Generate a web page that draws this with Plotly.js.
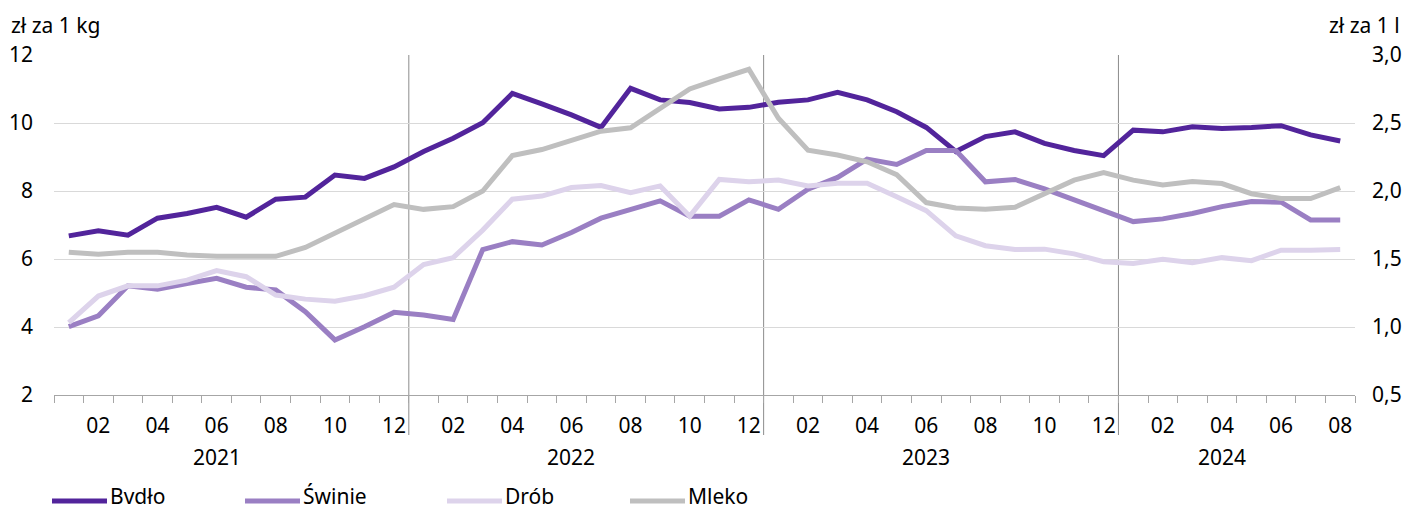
<!DOCTYPE html>
<html>
<head>
<meta charset="utf-8">
<script src="https://cdn.plot.ly/plotly-3.0.1.min.js"></script>
<style>
  html, body { margin: 0; padding: 0; background: #fff; }
  #chart { width: 1405px; height: 510px; }
</style>
</head>
<body>
<div id="chart"></div>
<script>
// ---- data ----
const months = [
  '2021-01','2021-02','2021-03','2021-04','2021-05','2021-06','2021-07','2021-08','2021-09','2021-10','2021-11','2021-12',
  '2022-01','2022-02','2022-03','2022-04','2022-05','2022-06','2022-07','2022-08','2022-09','2022-10','2022-11','2022-12',
  '2023-01','2023-02','2023-03','2023-04','2023-05','2023-06','2023-07','2023-08','2023-09','2023-10','2023-11','2023-12',
  '2024-01','2024-02','2024-03','2024-04','2024-05','2024-06','2024-07','2024-08'
];
const bydlo = [
  6.68, 6.83, 6.70, 7.20, 7.34, 7.52, 7.23, 7.76, 7.82, 8.47, 8.37, 8.71,
  9.16, 9.55, 10.01, 10.87, 10.56, 10.24, 9.87, 11.02, 10.68, 10.60, 10.41, 10.46,
  10.61, 10.68, 10.90, 10.68, 10.33, 9.87, 9.16, 9.60, 9.74, 9.40, 9.19, 9.04,
  9.79, 9.74, 9.89, 9.84, 9.87, 9.92, 9.65, 9.47
];
const swinie = [
  4.01, 4.33, 5.21, 5.11, 5.28, 5.43, 5.17, 5.09, 4.45, 3.62, 4.01, 4.43,
  4.35, 4.22, 6.28, 6.51, 6.41, 6.78, 7.20, 7.46, 7.71, 7.26, 7.26, 7.74,
  7.46, 8.05, 8.40, 8.94, 8.78, 9.19, 9.19, 8.27, 8.34, 8.06, 7.74, 7.41,
  7.10, 7.18, 7.34, 7.54, 7.69, 7.67, 7.15, 7.15
];
const drob = [
  4.13, 4.91, 5.21, 5.21, 5.38, 5.66, 5.48, 4.94, 4.82, 4.76, 4.92, 5.17,
  5.84, 6.04, 6.85, 7.76, 7.85, 8.10, 8.16, 7.95, 8.15, 7.26, 8.34, 8.27,
  8.32, 8.15, 8.23, 8.23, 7.83, 7.42, 6.68, 6.39, 6.28, 6.29, 6.15, 5.92,
  5.87, 5.99, 5.89, 6.04, 5.95, 6.26, 6.26, 6.28
];
const mleko = [
  1.55, 1.535, 1.55, 1.55, 1.53, 1.52, 1.52, 1.52, 1.585, 1.69, 1.80, 1.90,
  1.865, 1.885, 2.00, 2.26, 2.305, 2.37, 2.44, 2.465, 2.61, 2.75, 2.825, 2.895,
  2.535, 2.30, 2.265, 2.215, 2.12, 1.915, 1.875, 1.865, 1.88, 1.98, 2.08, 2.135,
  2.08, 2.045, 2.07, 2.055, 1.98, 1.945, 1.945, 2.025
];
const seriesNames = ['Bvdło', 'Świnie', 'Drób', 'Mleko'];
const leftUnit = 'zł za 1 kg';
const rightUnit = 'zł za 1 l';
const leftTicks = [2, 4, 6, 8, 10, 12];
const rightTicks = [0.5, 1.0, 1.5, 2.0, 2.5, 3.0];

// ---- derived labels ----
const monthTickText = months.map(m => (parseInt(m.slice(5), 10) % 2 === 0 ? m.slice(5) : ''));
const years = [...new Set(months.map(m => m.slice(0, 4)))];

const FONT = 'Noto Sans, Open Sans, DejaVu Sans, sans-serif';
const FS = 21;
const colors = ['#52249b', '#9a7fc3', '#ddd3eb', '#bfbfbf'];

// plot-area geometry (pixels)
const W = 1405, H = 510;
const M = { l: 54, r: 50, t: 55, b: 115 };
const PW = W - M.l - M.r, PH = H - M.t - M.b;
const px2paperX = px => (px - M.l) / PW;
const px2paperY = py => (H - M.b - py) / PH;

const traces = [
  { x: months, y: bydlo, name: seriesNames[0], type: 'scatter', mode: 'lines',
    line: { color: colors[0], width: 5 }, xaxis: 'x', yaxis: 'y' },
  { x: months, y: swinie, name: seriesNames[1], type: 'scatter', mode: 'lines',
    line: { color: colors[1], width: 5 }, xaxis: 'x', yaxis: 'y' },
  { x: months, y: drob, name: seriesNames[2], type: 'scatter', mode: 'lines',
    line: { color: colors[2], width: 5 }, xaxis: 'x', yaxis: 'y' },
  { x: months, y: mleko, name: seriesNames[3], type: 'scatter', mode: 'lines',
    line: { color: colors[3], width: 5 }, xaxis: 'x', yaxis: 'y2' }
];

// year separators and year labels
const shapes = [];
const annotations = [];
years.forEach((yr, k) => {
  const idx = months.map((m, i) => (m.startsWith(yr) ? i : -1)).filter(i => i >= 0);
  const first = idx[0], last = idx[idx.length - 1];
  if (k > 0) {
    shapes.push({ type: 'line', xref: 'x', yref: 'paper', x0: first - 0.5, x1: first - 0.5,
      y0: px2paperY(435), y1: 1, line: { color: '#8c8c8c', width: 1 }, layer: 'below' });
  }
  annotations.push({ xref: 'x', yref: 'paper', x: (first + last) / 2 - 0.5, y: px2paperY(457),
    text: yr, showarrow: false, xanchor: 'center', yanchor: 'middle',
    font: { family: FONT, size: FS, color: '#000' } });
});
annotations.push({ xref: 'paper', yref: 'paper', x: px2paperX(9), y: px2paperY(25), xanchor: 'left', yanchor: 'middle',
  text: leftUnit, showarrow: false, font: { family: FONT, size: FS, color: '#000' } });
annotations.push({ xref: 'paper', yref: 'paper', x: px2paperX(1402), y: px2paperY(25), xanchor: 'right', yanchor: 'middle',
  text: rightUnit, showarrow: false, font: { family: FONT, size: FS, color: '#000' } });

// legend row (keys drawn as short lines, names as text)
const legendKeyStart = [52, 245, 447, 630];
const legendKeyLen = 55;
const legendLineY = px2paperY(501);
const legendTextY = px2paperY(496);
seriesNames.forEach((name, i) => {
  const x0 = legendKeyStart[i];
  shapes.push({ type: 'line', xref: 'paper', yref: 'paper',
    x0: px2paperX(x0), x1: px2paperX(x0 + legendKeyLen), y0: legendLineY, y1: legendLineY,
    line: { color: colors[i], width: 5 } });
  annotations.push({ xref: 'paper', yref: 'paper', x: px2paperX(x0 + legendKeyLen + 2), y: legendTextY,
    xanchor: 'left', yanchor: 'middle', text: name, showarrow: false, borderpad: 0,
    font: { family: FONT, size: FS, color: '#000' } });
});

const layout = {
  width: W, height: H,
  margin: { l: M.l, r: M.r, t: M.t, b: M.b, pad: 0 },
  paper_bgcolor: '#fff', plot_bgcolor: '#fff',
  separators: ', ',
  font: { family: FONT, size: FS, color: '#000' },
  showlegend: false,
  xaxis: {
    type: 'category', categoryorder: 'array', categoryarray: months,
    range: [-0.5, months.length - 0.5],
    tickmode: 'array', tickvals: months, ticktext: monthTickText, tickangle: 0,
    tickson: 'boundaries', ticks: 'outside', ticklen: 7, tickcolor: '#a6a6a6', tickwidth: 1,
    showline: true, linecolor: '#a6a6a6', linewidth: 1,
    showgrid: false, zeroline: false, ticklabelstandoff: 12,
    tickfont: { family: FONT, size: FS, color: '#000' }, fixedrange: true
  },
  yaxis: {
    range: [2, 12], tickmode: 'array', tickvals: leftTicks,
    showgrid: true, gridcolor: '#d9d9d9', gridwidth: 1,
    zeroline: false, showline: false, ticks: '', ticklabelstandoff: 20,
    tickfont: { family: FONT, size: FS, color: '#000' }, fixedrange: true
  },
  yaxis2: {
    overlaying: 'y', side: 'right', range: [0.5, 3.0], tickmode: 'array', tickvals: rightTicks,
    tickformat: '.1f', showgrid: false, zeroline: false, showline: false, ticks: '',
    ticklabelstandoff: 16,
    tickfont: { family: FONT, size: FS, color: '#000' }, fixedrange: true
  },
  shapes: shapes,
  annotations: annotations
};

Plotly.newPlot('chart', traces, layout, { displayModeBar: false, staticPlot: true });
</script>
</body>
</html>
